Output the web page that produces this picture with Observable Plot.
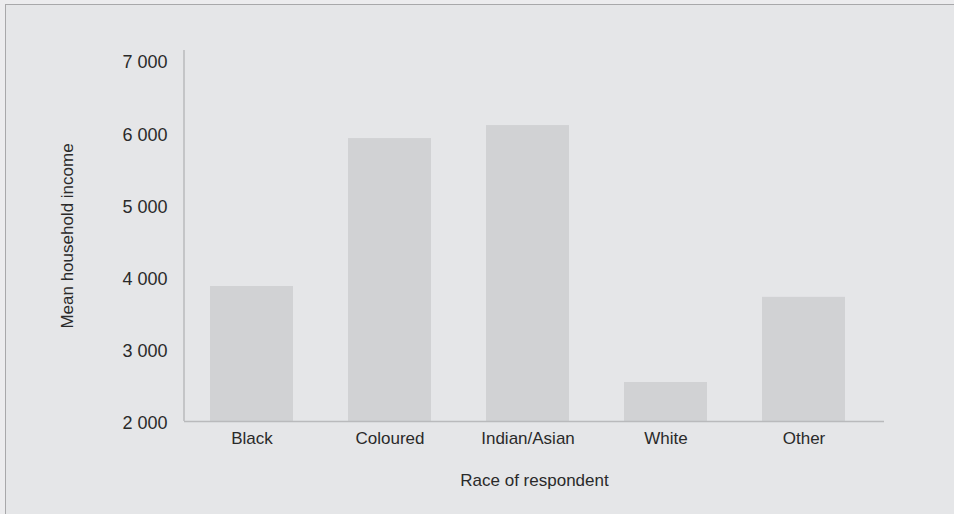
<!DOCTYPE html>
<html>
<head>
<meta charset="utf-8">
<script src="https://cdn.jsdelivr.net/npm/d3@7"></script>
<script src="https://cdn.jsdelivr.net/npm/@observablehq/plot@0.6"></script>
<style>
  html, body { margin: 0; padding: 0; background: #ececee; overflow: hidden; }
  #panel {
    position: absolute; left: 5px; top: 4px; width: 1000px; height: 560px;
    background: #e5e6e8; border-left: 1.5px solid #a8a8aa; border-top: 1.5px solid #a8a8aa;
  }
  #chart { position: absolute; left: 0; top: 0; }
</style>
</head>
<body>
<div id="panel"></div>
<div id="chart"></div>
<script>
// Mean household income by race of respondent
const races = ["Black", "Coloured", "Indian/Asian", "White", "Other"];
const meanIncome = [3870, 5920, 6100, 2540, 3720];
const yTicks = [2000, 3000, 4000, 5000, 6000, 7000];
const xTitle = "Race of respondent";
const yTitle = "Mean household income";

const rows = races.map((race, i) => ({race, income: meanIncome[i]}));

// thousands separated by a space, e.g. "7 000"
const fmt = d3.formatLocale({decimal: ".", thousands: " ", grouping: [3], currency: ["", ""]}).format(",");

const axisColor = "#b9babc";
const textColor = "#2a2a2a";

// vertical axis line along the left edge of the frame
const yAxisLine = (index, scales, values, dims) => {
  const g = d3.create("svg:g");
  g.append("line")
    .attr("x1", dims.marginLeft).attr("x2", dims.marginLeft)
    .attr("y1", dims.height - dims.marginBottom).attr("y2", dims.marginTop)
    .attr("stroke", axisColor).attr("stroke-width", 1.5);
  return g.node();
};

const chart = Plot.plot({
  width: 954,
  height: 514,
  marginLeft: 184,
  marginRight: 70,
  marginTop: 50,
  marginBottom: 93,
  style: {background: "transparent", fontFamily: "'Liberation Sans', Arial, sans-serif", fontSize: "17px", color: textColor},
  x: {domain: races, range: [182.4, 872.4], paddingInner: 0.4, paddingOuter: 0.2},
  y: {domain: [2000, 7140]},
  marks: [
    Plot.barY(rows, {x: "race", y1: 2000, y2: "income", fill: "#d1d2d4"}),
    Plot.ruleY([2000], {stroke: axisColor, strokeWidth: 1.5}),
    yAxisLine,
    Plot.axisX({tickSize: 0, tickPadding: 10, label: xTitle, labelAnchor: "center", labelArrow: "none", labelOffset: 64, fill: textColor}),
    Plot.axisY({ticks: yTicks, tickFormat: fmt, tickSize: 0, tickPadding: 17, dy: 2, fontSize: 18, label: null, fill: textColor}),
    Plot.axisY({ticks: [], label: yTitle, labelAnchor: "center", labelArrow: "none", labelOffset: 124, fill: textColor})
  ]
});
document.getElementById("chart").append(chart);
</script>
</body>
</html>
